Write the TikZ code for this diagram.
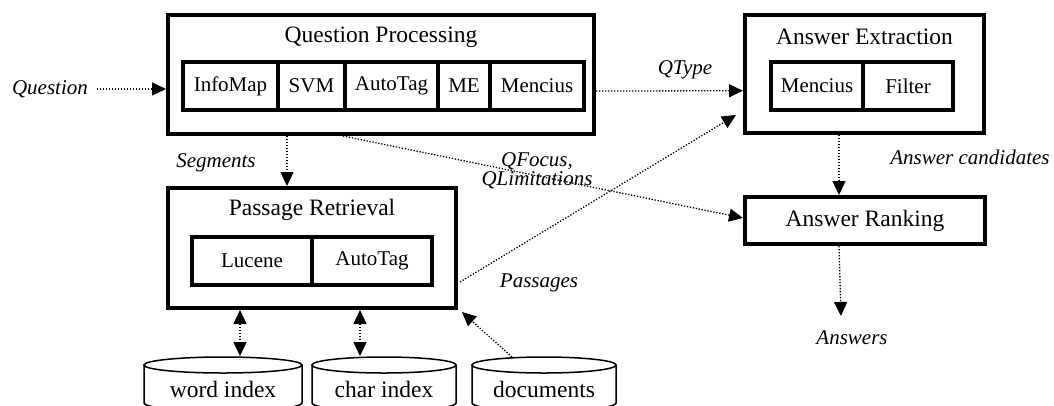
\documentclass[tikz,border=0pt]{standalone}
\usepackage{fontspec}
\setmainfont{Liberation Serif}
\usetikzlibrary{arrows.meta,calc}
\begin{document}
\begin{tikzpicture}[x=1pt,y=-1pt,
  bigfont/.style={font=\fontsize{23.5}{28}\selectfont},
  smallfont/.style={font=\fontsize{21}{25}\selectfont},
  outerbox/.style={draw,line width=4pt,inner sep=0pt},
  innerbox/.style={draw,line width=3.5pt,inner sep=0pt,minimum height=48pt,smallfont},
  titletext/.style={inner sep=0pt,bigfont},
  lbl/.style={inner sep=1pt,font=\fontsize{21}{19}\selectfont\itshape},
  flow/.style={line width=1.3pt,dash pattern=on 1.3pt off 1.7pt,-{Triangle[length=14pt,width=13pt]}},
  bothflow/.style={line width=1.3pt,dash pattern=on 1.3pt off 1.7pt,{Triangle[length=14pt,width=13pt]}-{Triangle[length=14pt,width=13pt]}},
  cyl/.style={line width=1.5pt},
  cyltext/.style={inner sep=0pt,bigfont}]
\useasboundingbox (0,0) rectangle (1054,405);

% Question Processing
\node[outerbox,minimum width=426pt,minimum height=119.5pt] (qp) at (381,74.25) {};
\node[titletext] (qpt) at (381,37) {Question Processing};
\node[innerbox,minimum width=95pt] (infomap) at (230.5,86) {InfoMap};
\node[innerbox,minimum width=67pt] (svm) at (311.5,86) {SVM};
\node[innerbox,minimum width=93pt] (autotag1) at (391.5,86) {AutoTag};
\node[innerbox,minimum width=52pt] (me) at (464,86) {ME};
\node[innerbox,minimum width=94pt] (mencius1) at (537,86) {Mencius};

% Answer Extraction
\node[outerbox,minimum width=239pt,minimum height=118pt] (ae) at (864.5,74) {};
\node[titletext] (aet) at (864.5,37) {Answer Extraction};
\node[innerbox,minimum width=92pt] (mencius2) at (817,86) {Mencius};
\node[innerbox,minimum width=90pt] (filter) at (908,86) {Filter};

% Answer Ranking
\node[outerbox,minimum width=240pt,minimum height=47pt,bigfont] (ar) at (865,220.5) {Answer Ranking};

% Passage Retrieval
\node[outerbox,minimum width=288pt,minimum height=120pt] (pr) at (312,248) {};
\node[titletext] (prt) at (312,210) {Passage Retrieval};
\node[innerbox,minimum width=120pt] (lucene) at (252,261) {Lucene};
\node[innerbox,minimum width=120pt] (autotag2) at (372,261) {AutoTag};

% Cylinders
\draw[cyl] (144,365) -- (144,403) arc[start angle=180,end angle=0,x radius=79,y radius=8] -- (302,365);
\draw[cyl] (223,365) ellipse[x radius=79,y radius=8];
\draw[cyl] (312,365) -- (312,403) arc[start angle=180,end angle=0,x radius=72,y radius=8] -- (456,365);
\draw[cyl] (384,365) ellipse[x radius=72,y radius=8];
\draw[cyl] (472,365) -- (472,403) arc[start angle=180,end angle=0,x radius=72,y radius=8] -- (616,365);
\draw[cyl] (544,365) ellipse[x radius=72,y radius=8];
\node[cyltext] (wi) at (223,389) {word index};
\node[cyltext] (ci) at (384,389) {char index};
\node[cyltext] (doc) at (544,389) {documents};
\coordinate (wiTop) at (240,356);
\coordinate (ciTop) at (360,356);
\coordinate (docTop) at (512,357);

% Labels
\node[lbl] (question) at (50,89) {Question};
\node[lbl] (segments) at (216,163) {Segments};
\node[lbl,align=center] (qfocus) at (537,171) {QFocus,\\QLimitations};
\node[lbl] (qtype) at (685,70) {QType};
\node[lbl] (candidates) at (970,157) {Answer candidates};
\node[lbl] (passages) at (539,283) {Passages};
\node[lbl] (answers) at (852,338) {Answers};
\coordinate (ansTip) at (841,316);

% Connectors
\draw[flow] ($(question.east)+(8,0)$) -- (question.east -| qp.west);
\draw[flow] ($(qp.south west)+(121,0)$) -- ($(pr.north west)+(121,0)$);
\draw[flow] ($(qp.east)+(0,16.75)$) -- ($(ae.west)+(0,16.75)$);
\draw[flow] ($(qp.south west)+(177,0)$) -- ($(ar.west)+(0,-2.5)$);
\draw[flow] ($(ae.south west)+(96,0)$) -- ($(ar.north west)+(96,0)$);
\draw[flow] ($(ar.south west)+(96,0)$) -- (ansTip);
\draw[flow] ($(pr.east)+(2,34)$) -- ($(ae.south west)+(-7,-20)$);
\draw[flow] (docTop) -- ($(pr.south east)+(4,2)$);
\draw[bothflow] (pr.south -| wiTop) -- (wiTop);
\draw[bothflow] (pr.south -| ciTop) -- (ciTop);
\end{tikzpicture}
\end{document}
